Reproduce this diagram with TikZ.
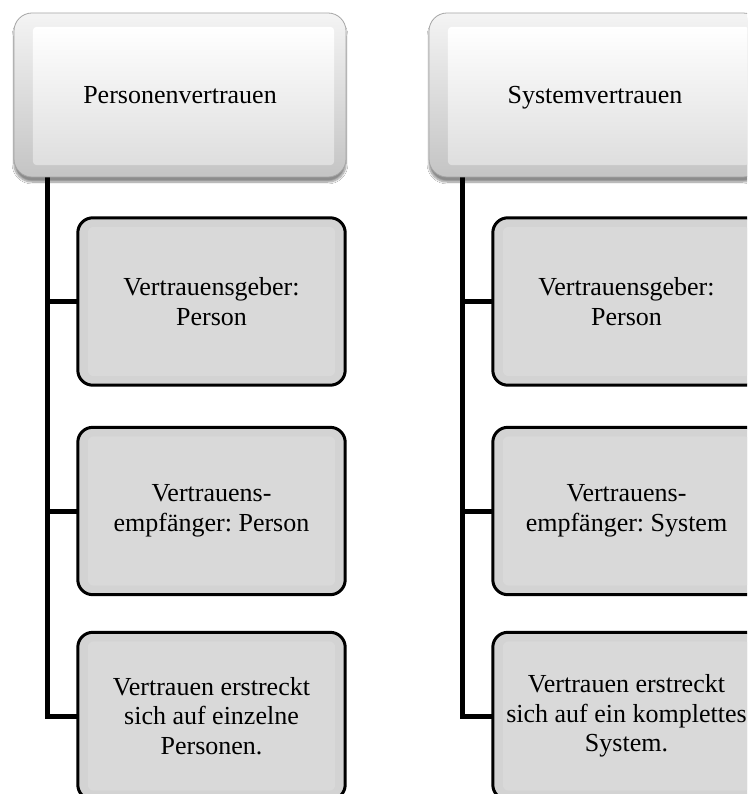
\documentclass[tikz,border=0pt]{standalone}
\usepackage{fontspec}
\setmainfont{Liberation Serif}
\frenchspacing
\usetikzlibrary{calc,shadows.blur}
\definecolor{bevelhi}{HTML}{F4F4F4}
\definecolor{bevello}{HTML}{C4C4C4}
\definecolor{facelo}{HTML}{DEDEDE}
\definecolor{childfill}{HTML}{D3D3D3}
\definecolor{childface}{HTML}{D9D9D9}
\tikzset{
  headbox/.style={rectangle, rounded corners=18pt, minimum width=332pt, minimum height=164pt,
    top color=bevelhi, bottom color=bevello, draw=black!35, line width=0.8pt,
    blur shadow={shadow xshift=0pt, shadow yshift=-5pt, shadow blur steps=10, shadow opacity=45},
    inner sep=0pt},
  headface/.style={rounded corners=4pt, top color=white, bottom color=facelo},
  headtext/.style={font=\fontsize{26}{30}\selectfont, anchor=base, inner sep=0pt},
  childbox/.style={rectangle, rounded corners=15pt, minimum width=267pt, minimum height=167pt,
    fill=childfill, draw=black, line width=3pt, inner sep=0pt},
  childface/.style={rounded corners=6pt, fill=childface},
  childtext/.style={font=\fontsize{26}{29.5}\selectfont, align=center},
  slot/.style={rectangle, minimum width=#1, inner sep=0pt},
  conn/.style={draw=black, line width=5pt, line join=miter},
}
\begin{document}
\begin{tikzpicture}[x=1pt, y=-1pt]
  \useasboundingbox (0,0) rectangle (747,794);
  \clip (0,0) rectangle (747,794);
  \fill[white] (0,0) rectangle (747,794);

  % spine positions of the two columns
  \coordinate (lspine) at (47,0);
  \coordinate (rspine) at (462,0);

  % box outlines placed first, so that connectors can run beneath the boxes
  \path
    (180,95)      node[slot=332pt, minimum height=164pt] (ph) {}
    (595,95)      node[slot=332pt, minimum height=164pt] (sh) {}
    (211.5,301.5) node[slot=267pt, minimum height=167pt] (p1) {}
    (211.5,511)   node[slot=267pt, minimum height=167pt] (p2) {}
    (211.5,716)   node[slot=267pt, minimum height=167pt] (p3) {}
    (626.5,301.5) node[slot=267pt, minimum height=167pt] (s1) {}
    (626.5,511)   node[slot=267pt, minimum height=167pt] (s2) {}
    (626.5,716)   node[slot=267pt, minimum height=167pt] (s3) {};

  % connectors
  \draw[conn] (lspine |- ph.south) |- (p3.west);
  \draw[conn] (lspine |- p1.west) -- (p1.west);
  \draw[conn] (lspine |- p2.west) -- (p2.west);
  \draw[conn] (rspine |- sh.south) |- (s3.west);
  \draw[conn] (rspine |- s1.west) -- (s1.west);
  \draw[conn] (rspine |- s2.west) -- (s2.west);

  % header boxes with bevelled face
  \foreach \n in {ph,sh} {
    \node[headbox] at (\n.center) {};
    \path[headface] ($(\n.north west)+(19,14)$) rectangle ($(\n.south east)+(-12,-12)$);
  }
  \node[headtext] (pht) at ($(ph.center)+(0,9)$) {Personenvertrauen};
  \node[headtext] (sht) at ($(sh.center)+(0,9)$) {Systemvertrauen};

  % child boxes
  \foreach \n in {p1,p2,p3,s1,s2,s3} {
    \path[childbox] (\n.north west) rectangle (\n.south east);
    \path[childface] ($(\n.north west)+(10,9)$) rectangle ($(\n.south east)+(-10,-9)$);
  }
  \node[childtext] (p1t) at (p1.center) {Vertrauensgeber:\\Person};
  \node[childtext] (p2t) at (p2.center) {Vertrauens-\\empfänger: Person};
  \node[childtext] (p3t) at (p3.center) {Vertrauen erstreckt\\sich auf einzelne\\Personen.};
  \node[childtext] (s1t) at (s1.center) {Vertrauensgeber:\\Person};
  \node[childtext] (s2t) at (s2.center) {Vertrauens-\\empfänger: System};
  \node[childtext] (s3t) at (s3.center) {Vertrauen erstreckt\\sich auf ein komplettes\\System.};
\end{tikzpicture}
\end{document}
